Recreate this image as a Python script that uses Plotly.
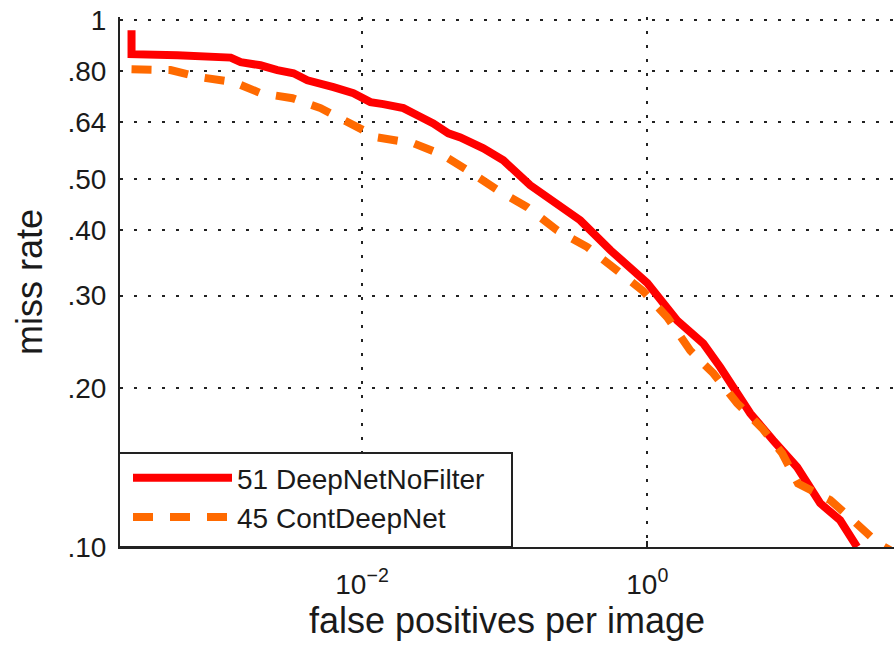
import math
import plotly.graph_objects as go

# false positives per image (x) and miss rate (y)
red_name = "51 DeepNetNoFilter"
red_fppi = [2.42e-4, 2.42e-4, 5.08e-4, 1.20e-3, 1.41e-3, 1.94e-3, 2.55e-3, 3.31e-3, 4.14e-3,
            5.11e-3, 6.30e-3, 8.70e-3, 0.01145, 0.0141, 0.0195, 0.0244, 0.0316, 0.0403,
            0.0489, 0.0709, 0.0979, 0.151, 0.234, 0.339, 0.551, 1.0, 1.62, 2.47, 3.25,
            4.27, 5.27, 7.64, 11.25, 16.3, 22.5, 29.6]
red_mr = [0.957, 0.862, 0.858, 0.849, 0.832, 0.821, 0.804, 0.793, 0.769,
          0.759, 0.746, 0.727, 0.699, 0.693, 0.681, 0.660, 0.637, 0.610,
          0.599, 0.571, 0.542, 0.486, 0.449, 0.417, 0.366, 0.317, 0.269, 0.2435, 0.2194,
          0.1957, 0.1794, 0.1594, 0.1417, 0.1211, 0.1124, 0.100]

orange_name = "45 ContDeepNet"
orange_fppi = [2.42e-4, 4.54e-4, 7.37e-4, 1.26e-3, 1.94e-3, 3.25e-3, 5.11e-3, 8.70e-3, 0.0128,
               0.0229, 0.0372, 0.0548, 0.0889, 0.144, 0.234, 0.380, 0.578, 0.923, 1.38,
               2.00, 2.90, 4.27, 6.40, 8.83, 11.4, 19.2, 28.7, 41.6, 50.5]
orange_mr = [0.807, 0.804, 0.779, 0.763, 0.727, 0.711, 0.681, 0.632, 0.599,
             0.584, 0.554, 0.519, 0.476, 0.4416, 0.399, 0.371, 0.340, 0.307, 0.273,
             0.236, 0.2137, 0.1874, 0.168, 0.1506, 0.132, 0.1227, 0.1114, 0.1016, 0.0986]

y_ticks = [0.1, 0.2, 0.3, 0.4, 0.5, 0.64, 0.8, 1.0]
y_ticktext = [".10", ".20", ".30", ".40", ".50", ".64", ".80", "1"]
x_ticks = [0.01, 1.0]
x_ticktext = ["10<sup>\u22122</sup>", "10<sup>0</sup>"]

FONT = "Liberation Sans, Arial, sans-serif"
GRID_DASH = "3px,11px"

W, H = 894, 646
ML, MR, MT, MB = 120, 0, 17, 99
plot_w = W - ML - MR
plot_h = H - MT - MB

fig = go.Figure()
fig.add_trace(go.Scatter(x=red_fppi, y=red_mr, mode="lines", name=red_name,
                         line=dict(color="#FF0000", width=8)))
fig.add_trace(go.Scatter(x=orange_fppi, y=orange_mr, mode="lines", name=orange_name,
                         line=dict(color="#FF6A00", width=8, dash="20px,17px")))

# top dotted grid line at the highest y tick (plotly skips grid lines at the edge)
top = math.log10(y_ticks[-1])
fig.add_shape(type="line", xref="paper", yref="y", x0=0, x1=1, y0=top, y1=top,
              line=dict(color="#222222", width=1.5, dash=GRID_DASH), layer="below")

# legend frame (white box with dark border, bottom-left of the axes)
fig.add_shape(type="rect", xref="paper", yref="paper",
              x0=-1.0 / plot_w, x1=392.0 / plot_w, y0=0, y1=94.0 / plot_h,
              fillcolor="white", line=dict(color="#222222", width=2), layer="above")

fig.update_layout(
    width=W, height=H,
    margin=dict(l=ML, r=MR, t=MT, b=MB, pad=0, autoexpand=False),
    paper_bgcolor="white", plot_bgcolor="white",
    font=dict(family=FONT, color="#1a1a1a"),
    showlegend=True,
    legend=dict(x=8.0 / plot_w, y=5.0 / plot_h, xanchor="left", yanchor="bottom",
                bgcolor="rgba(0,0,0,0)", borderwidth=0,
                font=dict(size=28, family=FONT, color="#1a1a1a"),
                itemwidth=99, tracegroupgap=0),
    xaxis=dict(type="log", range=[-3.697, 1.730], automargin=False,
               tickvals=x_ticks, ticktext=x_ticktext,
               tickfont=dict(size=28), ticklabelstandoff=11, ticklabeloverflow="allow",
               ticks="inside", ticklen=6, tickcolor="#222222", tickwidth=2,
               showline=True, linecolor="#222222", linewidth=2, mirror=False,
               showgrid=True, gridcolor="#222222", gridwidth=1.5, griddash=GRID_DASH,
               zeroline=False,
               title=dict(text="false positives per image", font=dict(size=36), standoff=0)),
    yaxis=dict(type="log", range=[-1, 0.006], automargin=False,
               tickvals=y_ticks, ticktext=y_ticktext,
               tickfont=dict(size=28), ticklabeloverflow="allow",
               ticks="", ticklabelstandoff=6,
               showline=True, linecolor="#222222", linewidth=2, mirror=False,
               showgrid=True, gridcolor="#222222", gridwidth=1.5, griddash=GRID_DASH,
               zeroline=False,
               title=dict(text="miss rate", font=dict(size=36), standoff=14)),
)

fig.write_html("out.html", config={"displayModeBar": False},
               post_script="document.body.style.margin='0';document.body.style.overflow='hidden';")
